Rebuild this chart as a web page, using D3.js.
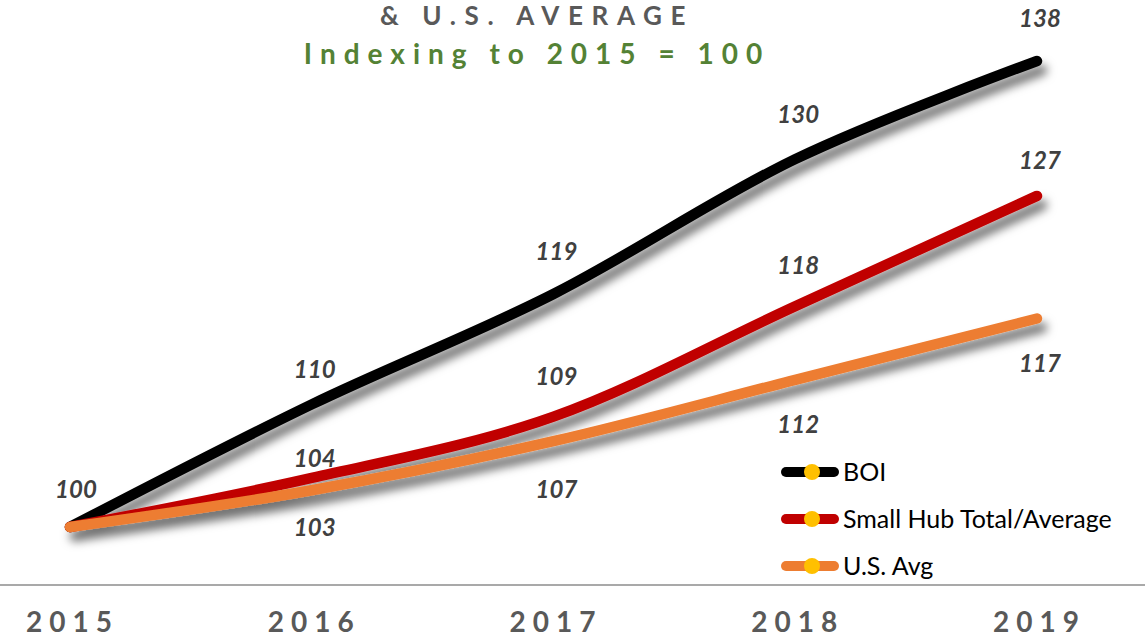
<!DOCTYPE html>
<html>
<head>
<meta charset="utf-8">
<script src="https://cdn.jsdelivr.net/npm/d3@7/dist/d3.min.js"></script>
<style>
  html, body { margin: 0; padding: 0; background: #fff; }
  svg { display: block; }
</style>
</head>
<body>
<svg id="chart" width="1145" height="642"></svg>
<script>
const years = ["2015", "2016", "2017", "2018", "2019"];
const seriesNames = ["BOI", "Small Hub Total/Average", "U.S. Avg"];
const boi = [100, 110, 119, 130, 138];
const smallHub = [100, 104, 109, 118, 127];
const usAvg = [100, 103, 107, 112, 117];
const titleLine = "& U.S. AVERAGE";
const subtitleLine = "Indexing to 2015 = 100";

const W = 1145, H = 642;
const svg = d3.select("#chart");

const defs = svg.append("defs");
const f = defs.append("filter").attr("id", "shadow")
  .attr("x", "-10%").attr("y", "-20%").attr("width", "130%").attr("height", "150%");
f.append("feDropShadow").attr("dx", 5).attr("dy", 9).attr("stdDeviation", 5)
  .attr("flood-color", "#000").attr("flood-opacity", 0.55);

const x = d3.scalePoint().domain(years).range([70, 1037]);
const y = d3.scaleLinear().domain([100, 138]).range([527, 61]);

const series = [
  { name: seriesNames[0], values: boi, color: "#000000", dy: [-37, -35, -42, -45, -42] },
  { name: seriesNames[1], values: smallHub, color: "#C00000", dy: [null, -19, -40, -41, -35] },
  { name: seriesNames[2], values: usAvg, color: "#ED7D31", dy: [null, 37, 48, 45, 45] }
];

// title
svg.append("text").attr("x", 537).attr("y", 25)
  .attr("text-anchor", "middle")
  .style("font-family", "Lato, 'Open Sans', sans-serif")
  .style("font-weight", "bold").style("font-size", "26px")
  .style("letter-spacing", "8.6px").attr("fill", "#595959")
  .text(titleLine);
svg.append("text").attr("x", 537).attr("y", 64)
  .attr("text-anchor", "middle")
  .style("font-family", "Lato, 'Open Sans', sans-serif")
  .style("font-weight", "bold").style("font-size", "28px")
  .style("letter-spacing", "8px").attr("fill", "#548235")
  .text(subtitleLine);

// axis line
svg.append("line").attr("x1", 0).attr("x2", W).attr("y1", 585).attr("y2", 585)
  .attr("stroke", "#8c8c8c").attr("stroke-width", 1.5);

// x axis labels
const xAxis = d3.axisBottom(x).tickSize(0).tickPadding(0);
const gx = svg.append("g").attr("transform", "translate(2,612)").call(xAxis);
gx.select(".domain").remove();
gx.selectAll("text")
  .style("font-family", "Lato, 'Open Sans', sans-serif")
  .style("font-weight", "bold").style("font-size", "28px")
  .style("letter-spacing", "7px").attr("fill", "#595959");

// lines
const line = d3.line().x((d, i) => x(years[i])).y(d => y(d)).curve(d3.curveCardinal.tension(0));
svg.append("g").attr("filter", "url(#shadow)")
  .selectAll("path").data(series).join("path")
  .attr("d", d => line(d.values))
  .attr("fill", "none").attr("stroke", d => d.color)
  .attr("stroke-width", 10.5).attr("stroke-linecap", "round").attr("stroke-linejoin", "round");

// data labels
series.forEach(s => {
  svg.append("g").selectAll("text").data(s.values.map((v, i) => ({ v, i })).filter(d => s.dy[d.i] !== null))
    .join("text")
    .attr("x", d => x(years[d.i]) + (d.i === 0 ? 6 : 3))
    .attr("y", d => y(d.v) + s.dy[d.i])
    .attr("dy", "0.35em")
    .attr("text-anchor", "middle")
    .style("font-family", "Lato, 'Open Sans', sans-serif")
    .style("font-weight", "bold").style("font-style", "italic").style("font-size", "24px")
    .attr("fill", "#404040")
    .text(d => d.v);
});

// legend
const lg = svg.append("g").attr("transform", "translate(782,472)");
const rows = lg.selectAll("g").data(series).join("g")
  .attr("transform", (d, i) => `translate(0,${i * 47})`);
rows.append("line").attr("x1", 4).attr("x2", 52).attr("y1", 0).attr("y2", 0)
  .attr("stroke", d => d.color).attr("stroke-width", 10).attr("stroke-linecap", "round");
rows.append("circle").attr("cx", 30).attr("cy", 0).attr("r", 8).attr("fill", "#FFC000");
rows.append("text").attr("x", 61).attr("y", 0).attr("dy", "0.35em")
  .style("font-family", "Lato, 'Open Sans', sans-serif").style("font-size", "25px")
  .attr("fill", "#000").text(d => d.name);
</script>
</body>
</html>
